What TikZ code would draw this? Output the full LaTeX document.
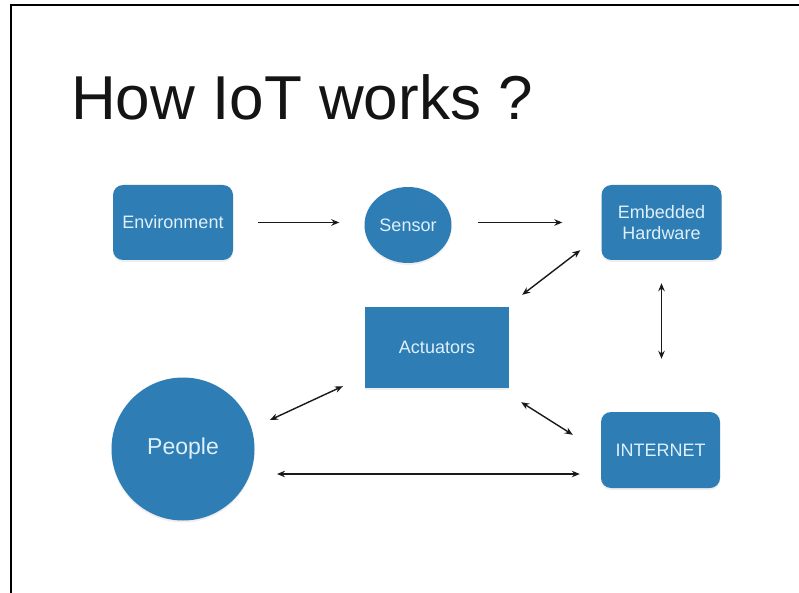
\documentclass[tikz,border=0pt]{standalone}
\usepackage{fontspec}
\setmainfont{Liberation Sans}
\usetikzlibrary{shapes.geometric,arrows.meta,shadows}
\definecolor{boxblue}{RGB}{47,125,181}
\definecolor{boxtext}{RGB}{222,240,250}
\definecolor{linegray}{RGB}{25,25,25}
\begin{document}
\begin{tikzpicture}[x=1pt,y=1pt,
  blk/.style={fill=boxblue, draw=none, text=boxtext, inner sep=0pt, align=center,
    font=\fontsize{18}{22}\selectfont,
    drop shadow={opacity=0.12, shadow xshift=0pt, shadow yshift=-2pt}},
  rbox/.style={blk, rounded corners=10pt},
  arr/.style={draw=linegray, line width=1.4pt, {Stealth[length=8pt,width=6.5pt]}-{Stealth[length=8pt,width=6.5pt]}},
  oarr/.style={draw=linegray, line width=1.4pt, -{Stealth[length=8pt,width=6.5pt]}}]
\useasboundingbox (0,0) rectangle (799,-593);
\fill[white] (0,0) rectangle (799,-593);
% frame
\draw[line width=1.3pt, black] (11,-593) -- (11,-5) -- (799,-5);
% title
\node[anchor=base west, inner sep=0pt, font=\fontsize{62}{70}\selectfont, text=black!92] (title) at (71,-120) {How IoT works ?};
% nodes
\node[rbox, minimum width=120pt, minimum height=75pt] (env) at (173,-222.5) {Environment};
\node[blk, ellipse, minimum width=87pt, minimum height=76pt] (sen) at (408,-225) {Sensor};
\node[rbox, minimum width=120pt, minimum height=75pt] (emb) at (661.5,-222.5) {Embedded\\[-1pt]Hardware};
\node[blk, minimum width=144pt, minimum height=81pt] (act) at (437,-347.5) {Actuators};
\node[blk, circle, minimum size=143pt, font=\fontsize{23}{27}\selectfont] (ppl) at (183,-449) {People};
\node[rbox, minimum width=119pt, minimum height=76pt] (net) at (660.5,-450) {INTERNET};
% connectors
\draw[oarr, shorten <=25pt, shorten >=25pt] (env.east) -- (env.east -| sen.west);
\draw[oarr, shorten <=26pt, shorten >=39pt] (env.east -| sen.east) -- (env.east -| emb.west);
\draw[arr] ([shift={(13pt,12pt)}]act.north east) -- ([shift={(-21pt,10pt)}]emb.south west);
\draw[arr, shorten <=23pt, shorten >=53pt] (emb.south) -- (emb.south |- net.north);
\draw[arr] ([shift={(12pt,-14pt)}]act.south east) -- ([shift={(-28pt,-23pt)}]net.north west);
\draw[arr] ([shift={(87pt,29pt)}]ppl.center) -- ([shift={(-22pt,2pt)}]act.south west);
\draw[arr] ([shift={(94pt,-25pt)}]ppl.center) -- ([shift={(-21pt,-24pt)}]net.west);
\end{tikzpicture}
\end{document}
